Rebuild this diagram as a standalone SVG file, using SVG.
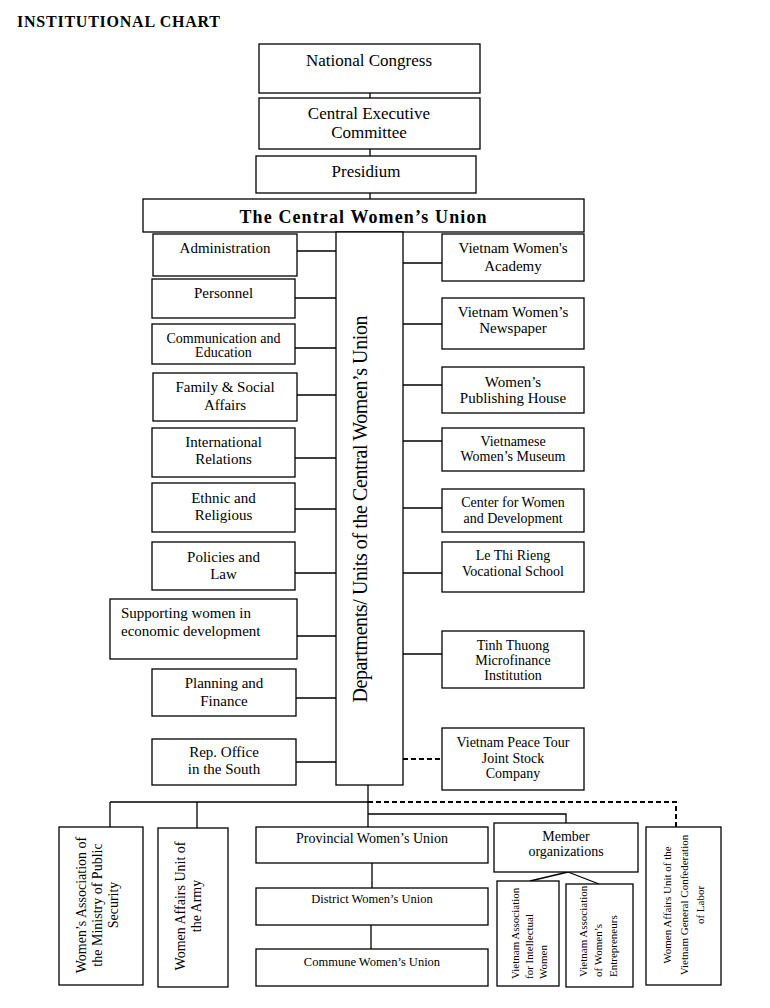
<svg xmlns="http://www.w3.org/2000/svg" width="770" height="1008" viewBox="0 0 770 1008">
<style>
.b{fill:#fff;stroke:#000;stroke-width:1.3}
.t{font-family:"Liberation Serif","Times New Roman",serif;fill:#000;text-anchor:middle}
.s17{font-size:17px}
.s15{font-size:15px}
.s14{font-size:14px}
.s13{font-size:13px}
.s12{font-size:12.5px}
.s11{font-size:11px}
.c{stroke:#000;stroke-width:1.3;fill:none}
.d{stroke:#000;stroke-width:2;stroke-dasharray:5,3;fill:none}
</style>
<rect width="770" height="1008" fill="#fff"/>
<text x="17" y="27" font-family="Liberation Serif,serif" font-weight="bold" font-size="16" textLength="203">INSTITUTIONAL CHART</text>

<g id="connectors">
<path class="c" d="M370,93V106M370,149V156M370,193V199"/>
<path class="c" d="M297,251H336M295,298H336M295,348H336M297,395H336M295,458H336M295,509H336M295,573H336M297,636H336M296,698H336M296,762H336"/>
<path class="c" d="M402,263H442M402,324H442M402,385H442M402,441H442M402,508H442M402,573H442M402,654H442"/>
<path class="d" d="M403,759H442"/>
<path class="c" d="M368,785V827M110,802H368M110,802V827M197,802V828M368,814H566V823M372,863V888M371,925V949M568,872L530,881M568,872L599,884"/>
<path class="d" d="M368,802H676V827"/>
</g>

<g id="national-congress"><rect class="b" x="259" y="44" width="221" height="49"/><text class="t s17" x="369" y="66">National Congress</text></g>
<g id="central-executive-committee"><rect class="b" x="259" y="98" width="221" height="51"/><text class="t s17" x="369" y="119">Central Executive</text><text class="t s17" x="369" y="138">Committee</text></g>
<g id="presidium"><rect class="b" x="256" y="156" width="220" height="37"/><text class="t s17" x="366" y="177">Presidium</text></g>
<g id="central-womens-union"><rect class="b" x="143" y="199" width="441" height="33"/><text class="t" x="363" y="223" font-size="18" font-weight="bold" textLength="247">The Central Women’s Union</text></g>
<g id="departments"><rect class="b" x="336" y="232" width="67" height="553"/><text class="t" transform="translate(367,509) rotate(-90)" font-size="20" textLength="387">Departments/ Units of the Central Women’s Union</text></g>

<g id="administration"><rect class="b" x="153" y="234" width="144" height="42"/><text class="t s15" x="225" y="253">Administration</text></g>
<g id="personnel"><rect class="b" x="152" y="279" width="143" height="39"/><text class="t s15" x="223.5" y="298">Personnel</text></g>
<g id="communication"><rect class="b" x="152" y="324" width="143" height="40"/><text class="t s14" x="223.5" y="343">Communication and</text><text class="t s14" x="223.5" y="357">Education</text></g>
<g id="family"><rect class="b" x="153" y="373" width="144" height="48"/><text class="t s15" x="225" y="392">Family &amp; Social</text><text class="t s15" x="225" y="410">Affairs</text></g>
<g id="international"><rect class="b" x="152" y="428" width="143" height="49"/><text class="t s15" x="223.5" y="447">International</text><text class="t s15" x="223.5" y="464">Relations</text></g>
<g id="ethnic"><rect class="b" x="152" y="483" width="143" height="49"/><text class="t s15" x="223.5" y="503">Ethnic and</text><text class="t s15" x="223.5" y="520">Religious</text></g>
<g id="policies"><rect class="b" x="152" y="542" width="143" height="48"/><text class="t s15" x="223.5" y="562">Policies and</text><text class="t s15" x="223.5" y="579">Law</text></g>
<g id="supporting"><rect class="b" x="110" y="599" width="187" height="60"/><text class="t s15" x="121" y="618" text-anchor="start" style="text-anchor:start">Supporting women in</text><text class="t s15" x="121" y="636" style="text-anchor:start">economic development</text></g>
<g id="planning"><rect class="b" x="152" y="669" width="144" height="47"/><text class="t s15" x="224" y="688">Planning and</text><text class="t s15" x="224" y="706">Finance</text></g>
<g id="rep-office"><rect class="b" x="152" y="739" width="144" height="46"/><text class="t s15" x="224" y="757">Rep. Office</text><text class="t s15" x="224" y="774">in the South</text></g>

<g id="academy"><rect class="b" x="442" y="234" width="142" height="47"/><text class="t s15" x="513" y="253">Vietnam Women's</text><text class="t s15" x="513" y="271">Academy</text></g>
<g id="newspaper"><rect class="b" x="442" y="298" width="142" height="51"/><text class="t s15" x="513" y="317">Vietnam Women’s</text><text class="t s15" x="513" y="333">Newspaper</text></g>
<g id="publishing"><rect class="b" x="442" y="367" width="142" height="46"/><text class="t s15" x="513" y="387">Women’s</text><text class="t s15" x="513" y="403">Publishing House</text></g>
<g id="museum"><rect class="b" x="442" y="428" width="142" height="43"/><text class="t s14" x="513" y="446">Vietnamese</text><text class="t s14" x="513" y="461">Women’s Museum</text></g>
<g id="center"><rect class="b" x="442" y="489" width="142" height="43"/><text class="t s14" x="513" y="507">Center for Women</text><text class="t s14" x="513" y="523">and Development</text></g>
<g id="le-thi-rieng"><rect class="b" x="442" y="542" width="142" height="50"/><text class="t s14" x="513" y="560">Le Thi Rieng</text><text class="t s14" x="513" y="576">Vocational School</text></g>
<g id="tinh-thuong"><rect class="b" x="442" y="631" width="142" height="57"/><text class="t s14" x="513" y="650">Tinh Thuong</text><text class="t s14" x="513" y="665">Microfinance</text><text class="t s14" x="513" y="680">Institution</text></g>
<g id="peace-tour"><rect class="b" x="442" y="728" width="142" height="62"/><text class="t s14" x="513" y="747">Vietnam Peace Tour</text><text class="t s14" x="513" y="763">Joint Stock</text><text class="t s14" x="513" y="778">Company</text></g>

<g id="public-security"><rect class="b" x="59" y="827" width="84" height="158"/><text class="t s14" transform="translate(86,905) rotate(-90)"><tspan x="0" y="0">Women’s Association of</tspan><tspan x="0" y="16">the Ministry of Public</tspan><tspan x="0" y="32">Security</tspan></text></g>
<g id="army"><rect class="b" x="158" y="828" width="70" height="159"/><text class="t s14" transform="translate(185,906) rotate(-90)"><tspan x="0" y="0">Women Affairs Unit of</tspan><tspan x="0" y="16">the Army</tspan></text></g>
<g id="provincial"><rect class="b" x="256" y="827" width="232" height="36"/><text class="t s14" x="372" y="843">Provincial Women’s Union</text></g>
<g id="district"><rect class="b" x="256" y="888" width="232" height="37"/><text class="t s12" x="372" y="903">District Women’s Union</text></g>
<g id="commune"><rect class="b" x="256" y="949" width="232" height="37"/><text class="t s12" x="372" y="966">Commune Women’s Union</text></g>
<g id="member"><rect class="b" x="494" y="823" width="144" height="49"/><text class="t s14" x="566" y="841">Member</text><text class="t s14" x="566" y="856">organizations</text></g>
<g id="intellectual"><rect class="b" x="497" y="881" width="62" height="105"/><text class="t s11" transform="translate(519,979) rotate(-90)" style="text-anchor:start"><tspan x="0" y="0">Vietnam Association</tspan><tspan x="0" y="14">for Intellectual</tspan><tspan x="0" y="28">Women</tspan></text></g>
<g id="entrepreneurs"><rect class="b" x="566" y="884" width="67" height="103"/><text class="t s11" transform="translate(587,977) rotate(-90)" style="text-anchor:start"><tspan x="0" y="0">Vietnam Association</tspan><tspan x="0" y="15">of Women’s</tspan><tspan x="0" y="30">Entrepreneurs</tspan></text></g>
<g id="labor"><rect class="b" x="646" y="827" width="75" height="158"/><text class="t s11" transform="translate(671,905) rotate(-90)"><tspan x="0" y="0">Women Affairs Unit of the</tspan><tspan x="0" y="16.5">Vietnam General Confederation</tspan><tspan x="0" y="33">of Labor</tspan></text></g>
</svg>
